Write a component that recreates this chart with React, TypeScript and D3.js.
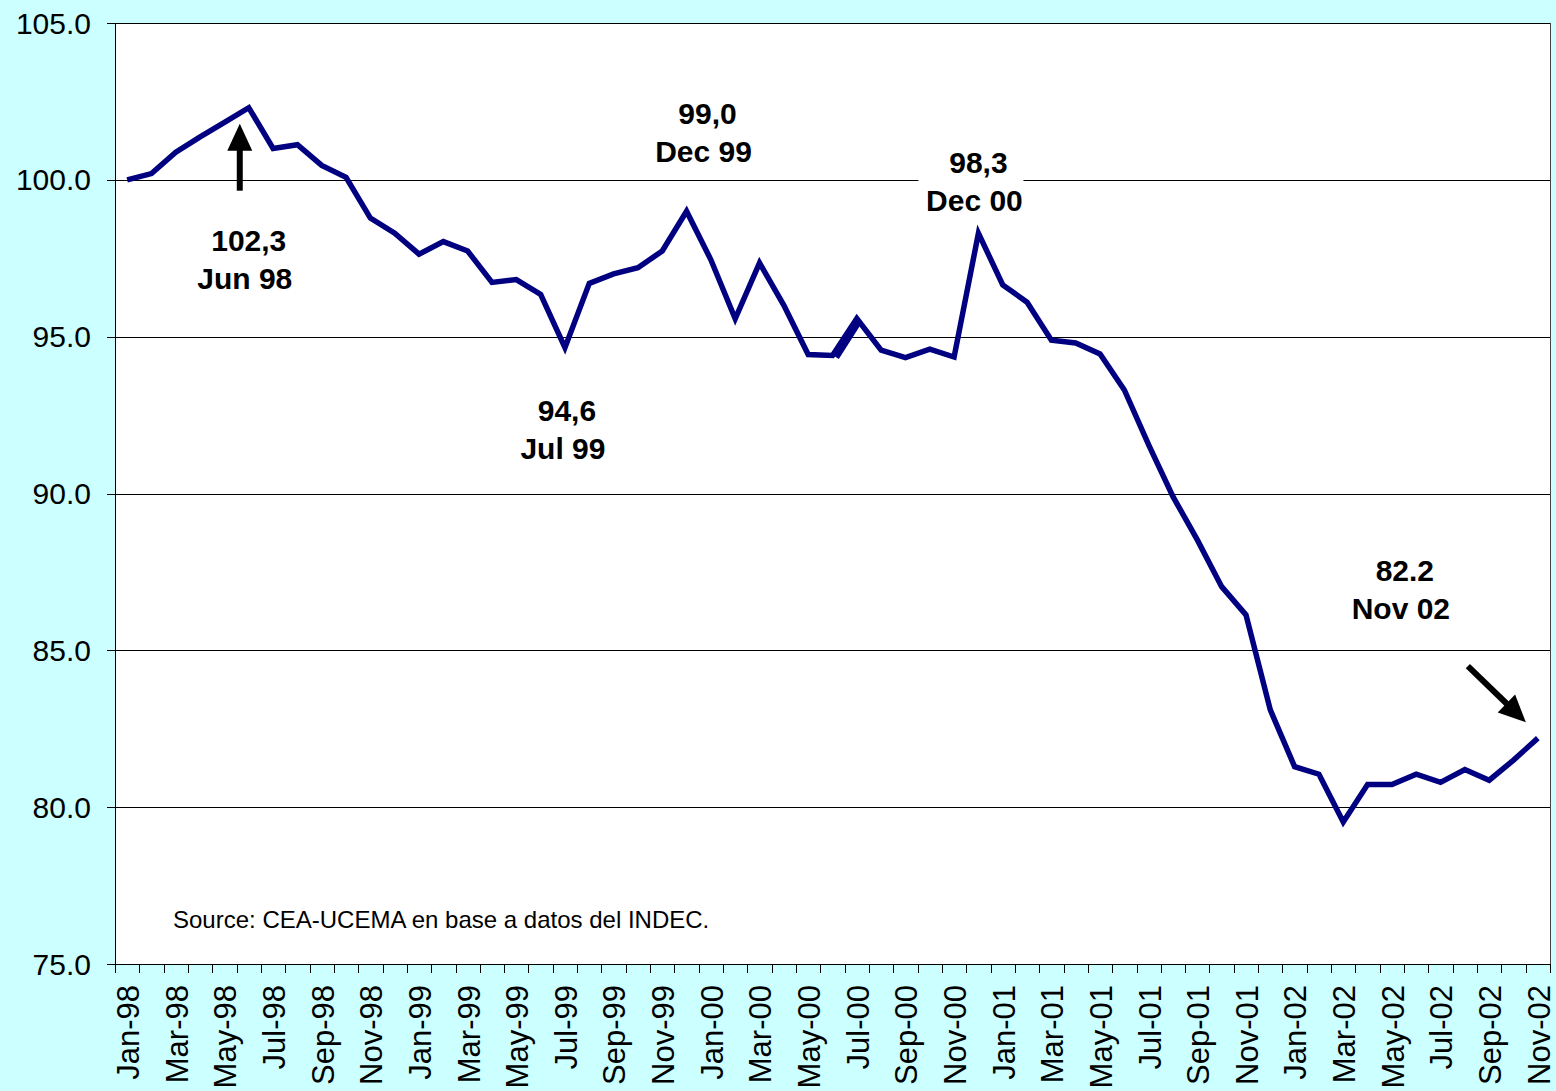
import React from "react";
import * as d3 from "d3";

const months = [
  "Jan-98","Feb-98","Mar-98","Apr-98","May-98","Jun-98","Jul-98","Aug-98","Sep-98","Oct-98","Nov-98","Dec-98",
  "Jan-99","Feb-99","Mar-99","Apr-99","May-99","Jun-99","Jul-99","Aug-99","Sep-99","Oct-99","Nov-99","Dec-99",
  "Jan-00","Feb-00","Mar-00","Apr-00","May-00","Jun-00","Jul-00","Aug-00","Sep-00","Oct-00","Nov-00","Dec-00",
  "Jan-01","Feb-01","Mar-01","Apr-01","May-01","Jun-01","Jul-01","Aug-01","Sep-01","Oct-01","Nov-01","Dec-01",
  "Jan-02","Feb-02","Mar-02","Apr-02","May-02","Jun-02","Jul-02","Aug-02","Sep-02","Oct-02","Nov-02",
];

const indexValues = [
  100.0, 100.2, 100.88, 101.37, 101.83, 102.3, 101.0, 101.12, 100.46, 100.08, 98.78, 98.3,
  97.63, 98.03, 97.73, 96.73, 96.82, 96.35, 94.65, 96.7, 97.0, 97.2, 97.73, 99.0,
  97.45, 95.57, 97.35, 96.0, 94.43, 94.4, 95.58, 94.57, 94.33, 94.6, 94.35, 98.3,
  96.65, 96.1, 94.89, 94.8, 94.45, 93.3, 91.55, 89.9, 88.52, 87.03, 86.13, 83.1,
  81.29, 81.05, 79.53, 80.72, 80.72, 81.05, 80.79, 81.2, 80.86, 81.5, 82.2,
];

const yTicks = [75, 80, 85, 90, 95, 100, 105];

const annotationCats = ["Jun-98", "Jul-99", "Dec-99", "Dec-00", "Nov-02"];
const annotationValues = ["102,3", "94,6", "99,0", "98,3", "82.2"];
const annotationDates = ["Jun 98", "Jul 99", "Dec 99", "Dec 00", "Nov 02"];

const sourceText = "Source: CEA-UCEMA en base a datos del INDEC.";

// layout
const W = 1556, H = 1091;
const L = 115, R = 1550, T = 23, B = 964;
const FONT = "'Liberation Sans', Arial, Helvetica, sans-serif";
// offsets of label (first line centre / baseline) from the data point
const labelOffsets: Record<string, [number, number]> = {
  "Jun-98": [0, 143],
  "Jul-99": [2, 73],
  "Dec-99": [21, -87],
  "Dec-00": [0, -60],
  "Nov-02": [-133, -157],
};

export default function App() {
  const x = d3.scaleBand<string>().domain(months).range([L, R]).padding(0);
  const y = d3.scaleLinear().domain([75, 105]).range([B, T]);
  const bw = x.bandwidth();
  const cx = (c: string) => (x(c) as number) + bw / 2;

  const line = d3
    .line<number>()
    .x((_, i) => cx(months[i]))
    .y((d) => y(d));

  const crisp = (v: number) => Math.round(v) + 0.5;

  const boundaries = months.map((m) => x(m) as number).concat([R]);

  // doubled segment (Jun-00 -> Jul-00) as in the original
  const iJun00 = months.indexOf("Jun-00");
  const iJul00 = months.indexOf("Jul-00");
  const dupA = [cx(months[iJun00]) + 4, y(indexValues[iJun00]) + 2];
  const dupB = [cx(months[iJul00]) + 2, y(indexValues[iJul00]) + 4];

  // arrows
  const jun = months.indexOf("Jun-98");
  const upX = cx(months[jun]) - 9;
  const upTip = y(indexValues[jun]) + 16;
  const upTail = upTip + 67;

  const nov = months.length - 1;
  const dTipX = cx(months[nov]) - 12;
  const dTipY = y(indexValues[nov]) - 16;
  const dTailX = dTipX - 58;
  const dTailY = dTipY - 56;

  const arrowHead = (tx: number, ty: number, fx: number, fy: number, len: number, half: number) => {
    const ang = Math.atan2(ty - fy, tx - fx);
    const bx = tx - len * Math.cos(ang);
    const by = ty - len * Math.sin(ang);
    const px = -Math.sin(ang) * half;
    const py = Math.cos(ang) * half;
    return `M${tx},${ty}L${bx + px},${by + py}L${bx - px},${by - py}Z`;
  };
  const shaftEnd = (tx: number, ty: number, fx: number, fy: number, len: number) => {
    const ang = Math.atan2(ty - fy, tx - fx);
    return [tx - len * Math.cos(ang), ty - len * Math.sin(ang)];
  };
  const upShaft = shaftEnd(upX, upTip, upX, upTail, 24);
  const dShaft = shaftEnd(dTipX, dTipY, dTailX, dTailY, 24);

  return (
    <div style={{ position: "absolute", left: 0, top: 0 }}>
      <svg width={W} height={H} style={{ display: "block" }} fontFamily={FONT}>
        <rect x={0} y={0} width={W} height={H} fill="#CCFFFF" />
        <rect x={L} y={T} width={R - L} height={B - T} fill="#FFFFFF" />

        {/* gridlines */}
        {yTicks.filter((t) => t > 75 && t < 105).map((t) => (
          <line key={t} x1={L} x2={R} y1={crisp(y(t))} y2={crisp(y(t))} stroke="#000" strokeWidth={1} />
        ))}

        {/* frame */}
        <line x1={L} x2={R} y1={crisp(T)} y2={crisp(T)} stroke="#000" strokeWidth={1} />
        <line x1={crisp(R)} x2={crisp(R)} y1={T} y2={B} stroke="#444" strokeWidth={1} />

        {/* white box behind Dec 00 label */}
        {(() => {
          const c = "Dec-00";
          const [dx, dy] = labelOffsets[c];
          const px = cx(c) + dx;
          const py = y(indexValues[months.indexOf(c)]) + dy;
          return <rect x={px - 60} y={py - 28} width={105} height={70} fill="#fff" />;
        })()}

        {/* y axis */}
        <line x1={crisp(L)} x2={crisp(L)} y1={T} y2={B} stroke="#000" strokeWidth={1} />
        {yTicks.map((t) => (
          <g key={t}>
            <line x1={L - 8} x2={L} y1={crisp(y(t))} y2={crisp(y(t))} stroke="#000" strokeWidth={1} />
            <text x={91} y={y(t)} dy="0.35em" textAnchor="end" fontSize={30} fill="#000">
              {d3.format(".1f")(t)}
            </text>
          </g>
        ))}

        {/* x axis */}
        <line x1={L} x2={R + 1} y1={crisp(B)} y2={crisp(B)} stroke="#000" strokeWidth={1} />
        {boundaries.map((bx, i) => (
          <line key={i} x1={crisp(bx)} x2={crisp(bx)} y1={B} y2={B + 9} stroke="#000" strokeWidth={1} />
        ))}
        {months.map((m, i) =>
          i % 2 === 0 ? (
            <text
              key={m}
              transform={`translate(${cx(m) + 1},${985}) rotate(-90)`}
              dy="0.35em"
              textAnchor="end"
              fontSize={31}
              fill="#000"
            >
              {m}
            </text>
          ) : null
        )}

        {/* data line */}
        <path d={line(indexValues) || ""} fill="none" stroke="#000080" strokeWidth={5.5} strokeLinejoin="miter" />
        <line x1={dupA[0]} y1={dupA[1]} x2={dupB[0]} y2={dupB[1]} stroke="#000080" strokeWidth={5.5} />

        {/* annotations */}
        {annotationCats.map((c, i) => {
          const [dx, dy] = labelOffsets[c];
          const px = cx(c) + dx;
          const py = y(indexValues[months.indexOf(c)]) + dy;
          return (
            <g key={c} fontWeight="bold" fontSize={30} fill="#000" textAnchor="middle">
              <text x={px} y={py}>{annotationValues[i]}</text>
              <text x={px - 4} y={py + 38}>{annotationDates[i]}</text>
            </g>
          );
        })}

        {/* arrows */}
        <line x1={upX} x2={upShaft[0]} y1={upTail} y2={upShaft[1]} stroke="#000" strokeWidth={6} />
        <path d={arrowHead(upX, upTip, upX, upTail, 27, 12.5)} fill="#000" />
        <line x1={dTailX} x2={dShaft[0]} y1={dTailY} y2={dShaft[1]} stroke="#000" strokeWidth={6} />
        <path d={arrowHead(dTipX, dTipY, dTailX, dTailY, 27, 12.5)} fill="#000" />

        {/* source */}
        <text x={173} y={928} fontSize={24} fill="#000">{sourceText}</text>
      </svg>
    </div>
  );
}
